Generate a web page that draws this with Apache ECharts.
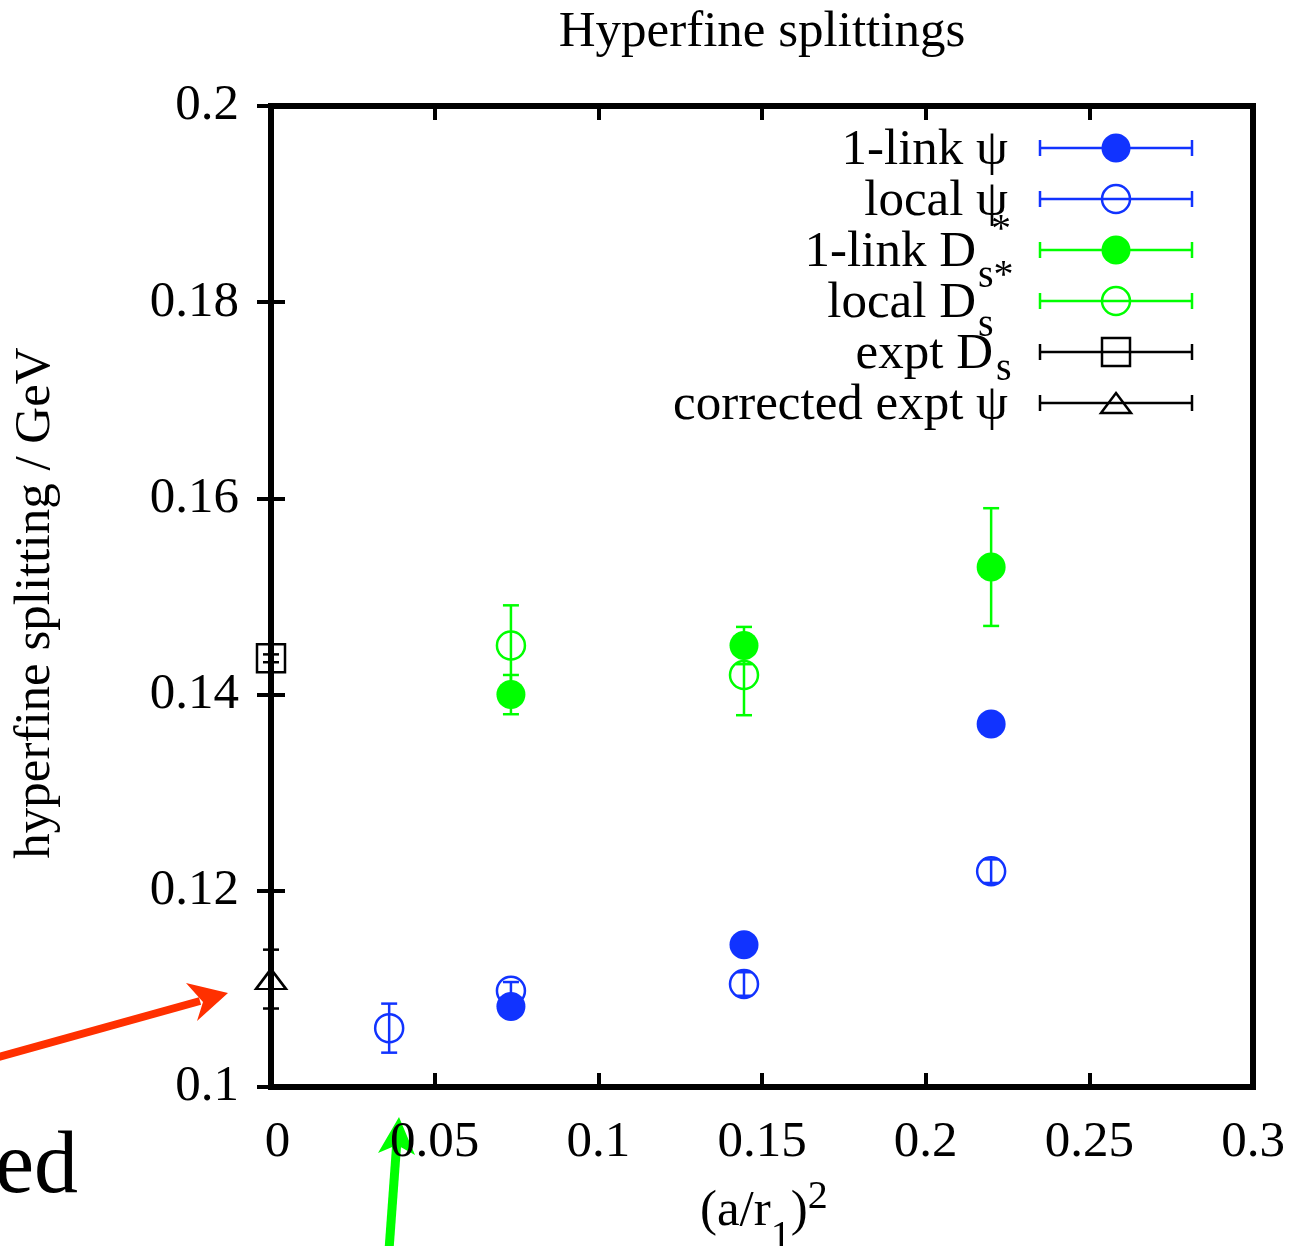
<!DOCTYPE html>
<html><head><meta charset="utf-8">
<script src="https://cdn.jsdelivr.net/npm/echarts@6/dist/echarts.min.js"></script>
<style>html,body{margin:0;padding:0;background:#fff}#c{width:1293px;height:1246px}</style>
</head><body><div id="c"></div>
<script>
// ---- data ----
const xTickLabels = ['0', '0.05', '0.1', '0.15', '0.2', '0.25', '0.3'];
const yTickLabels = ['0.1', '0.12', '0.14', '0.16', '0.18', '0.2'];

const localPsiX = [0.0361, 0.0733, 0.1445, 0.2200];
const localPsiY = [0.1060, 0.1098, 0.1105, 0.1220];
const localPsiErr = [0.0025, 0.0009, 0.0012, 0.0012];

const linkPsiX = [0.0733, 0.1445, 0.2200];
const linkPsiY = [0.1082, 0.1145, 0.1370];
const linkPsiErr = [0.0004, 0.0005, 0.0006];

const localDsX = [0.0733, 0.1445];
const localDsY = [0.1450, 0.1420];
const localDsErr = [0.0041, 0.0041];

const linkDsX = [0.0733, 0.1445, 0.2200];
const linkDsY = [0.1400, 0.1450, 0.1530];
const linkDsErr = [0.0020, 0.0019, 0.0060];

const exptDsX = [0];
const exptDsY = [0.1437];
const exptDsErr = [0.0004];

const corrPsiX = [0];
const corrPsiY = [0.1110];
const corrPsiErr = [0.0030];

// ---- styling ----
const FONT = 'Liberation Serif';
const FS = 51;
const BLUE = '#1133ff';
const GREEN = '#00ff00';
const BLACK = '#000000';
const LW = 2.5;

function errSeries(xs, ys, es, color, z) {
  return {
    type: 'custom', z: z, silent: true, animation: false,
    data: xs.map((x, i) => [x, ys[i], es[i]]),
    encode: { x: 0, y: 1 },
    renderItem: function (params, api) {
      const x = api.value(0), y = api.value(1), e = api.value(2);
      const t = api.coord([x, y + e]);
      const b = api.coord([x, y - e]);
      const hw = 8;
      const st = { stroke: color, lineWidth: LW };
      return { type: 'group', children: [
        { type: 'line', shape: { x1: t[0], y1: t[1], x2: b[0], y2: b[1] }, style: st },
        { type: 'line', shape: { x1: t[0] - hw, y1: t[1], x2: t[0] + hw, y2: t[1] }, style: st },
        { type: 'line', shape: { x1: b[0] - hw, y1: b[1], x2: b[0] + hw, y2: b[1] }, style: st }
      ]};
    }
  };
}
function markSeries(xs, ys, color, filled, symbol, size, z) {
  return {
    type: 'scatter', z: z, silent: true, animation: false,
    data: xs.map((x, i) => [x, ys[i]]),
    symbol: symbol, symbolSize: size,
    itemStyle: filled ? { color: color, opacity: 1 }
                      : { color: 'rgba(0,0,0,0)', borderColor: color, borderWidth: LW, opacity: 1 }
  };
}

const series = [
  errSeries(localPsiX, localPsiY, localPsiErr, BLUE, 3),
  markSeries(localPsiX, localPsiY, BLUE, false, 'circle', 28, 3),
  errSeries(linkPsiX, linkPsiY, linkPsiErr, BLUE, 4),
  markSeries(linkPsiX, linkPsiY, BLUE, true, 'circle', 29, 4),
  errSeries(localDsX, localDsY, localDsErr, GREEN, 5),
  markSeries(localDsX, localDsY, GREEN, false, 'circle', 28, 5),
  errSeries(linkDsX, linkDsY, linkDsErr, GREEN, 6),
  markSeries(linkDsX, linkDsY, GREEN, true, 'circle', 29, 6),
  errSeries(exptDsX, exptDsY, exptDsErr, BLACK, 7),
  markSeries(exptDsX, exptDsY, BLACK, false, 'rect', 28, 7),
  errSeries(corrPsiX, corrPsiY, corrPsiErr, BLACK, 8),
  markSeries(corrPsiX, corrPsiY, BLACK, false, 'triangle', [30, 20], 8)
];

// measure text widths
const mctx = document.createElement('canvas').getContext('2d');
function tw(txt, size) { mctx.font = size + 'px "' + FONT + '"'; return mctx.measureText(txt).width; }

function txt(text, x, y, size, align, extra) {
  return Object.assign({
    type: 'text', x: x, y: y, silent: true,
    style: { text: text, font: size + 'px "' + FONT + '"', fill: '#000', textAlign: align, textVerticalAlign: 'middle' }
  }, extra || {});
}

const graphics = [];
// title
graphics.push(txt('Hyperfine splittings', 762, 33, FS, 'center'));
// y axis name
graphics.push(txt('hyperfine splitting / GeV', 36, 603, FS, 'center', { rotation: Math.PI / 2 }));
// x axis name (a/r1)^2
(function () {
  let x = 700;
  graphics.push(txt('(a/r', x, 1212, FS, 'left')); x += tw('(a/r', FS);
  graphics.push(txt('1', x, 1237, 40, 'left')); x += tw('1', 40);
  graphics.push(txt(')', x, 1212, FS, 'left')); x += tw(')', FS);
  graphics.push(txt('2', x, 1197, 40, 'left'));
})();

// legend
const legendRows = [
  { y: 148, main: '1-link ψ', right: 1008, sub: null, color: BLUE, mark: 'fcircle' },
  { y: 199, main: 'local ψ', right: 1008, sub: { t: '*', x: 1001, y: 230, a: 'center' }, color: BLUE, mark: 'ocircle' },
  { y: 250, main: '1-link D', right: 976, sub: { t: 's*', x: 978, y: 276, a: 'left' }, color: GREEN, mark: 'fcircle' },
  { y: 301, main: 'local D', right: 976, sub: { t: 's', x: 978, y: 325, a: 'left' }, color: GREEN, mark: 'ocircle' },
  { y: 352, main: 'expt D', right: 993, sub: { t: 's', x: 996, y: 369, a: 'left' }, color: BLACK, mark: 'square' },
  { y: 403, main: 'corrected expt ψ', right: 1008, sub: null, color: BLACK, mark: 'triangle' }
];
legendRows.forEach(r => {
  graphics.push(txt(r.main, r.right, r.y + 3, FS, 'right'));
  if (r.sub) graphics.push(txt(r.sub.t, r.sub.x, r.sub.y, 40, r.sub.a));
  const st = { stroke: r.color, lineWidth: LW };
  graphics.push({ type: 'line', silent: true, shape: { x1: 1040, y1: r.y, x2: 1192, y2: r.y }, style: st });
  graphics.push({ type: 'line', silent: true, shape: { x1: 1040, y1: r.y - 8, x2: 1040, y2: r.y + 8 }, style: st });
  graphics.push({ type: 'line', silent: true, shape: { x1: 1192, y1: r.y - 8, x2: 1192, y2: r.y + 8 }, style: st });
  const cx = 1116;
  if (r.mark === 'fcircle') graphics.push({ type: 'circle', silent: true, z: 10, shape: { cx: cx, cy: r.y, r: 14.5 }, style: { fill: r.color } });
  if (r.mark === 'ocircle') graphics.push({ type: 'circle', silent: true, z: 10, shape: { cx: cx, cy: r.y, r: 14 }, style: { fill: 'none', stroke: r.color, lineWidth: LW } });
  if (r.mark === 'square') graphics.push({ type: 'rect', silent: true, z: 10, shape: { x: cx - 14, y: r.y - 14, width: 28, height: 28 }, style: { fill: 'none', stroke: r.color, lineWidth: LW } });
  if (r.mark === 'triangle') graphics.push({ type: 'polygon', silent: true, z: 10, shape: { points: [[cx, r.y - 10], [cx + 15, r.y + 10], [cx - 15, r.y + 10]] }, style: { fill: 'none', stroke: r.color, lineWidth: LW } });
});

// annotations outside the plot
graphics.push({ type: 'line', silent: true, shape: { x1: -5, y1: 1058, x2: 200, y2: 1001 }, style: { stroke: '#ff3000', lineWidth: 8 } });
graphics.push({ type: 'polygon', silent: true, shape: { points: [[228, 993], [186, 983], [203, 1002], [197, 1021]] }, style: { fill: '#ff3000' } });
graphics.push({ type: 'line', silent: true, shape: { x1: 389, y1: 1250, x2: 397, y2: 1140 }, style: { stroke: GREEN, lineWidth: 9 } });
graphics.push({ type: 'polygon', silent: true, shape: { points: [[399, 1117], [415, 1155], [397, 1145], [378, 1153]] }, style: { fill: GREEN } });
graphics.push(txt('ed', 78, 1169, 88, 'right'));

const axisCommon = {
  type: 'value', splitLine: { show: false }, axisLine: { show: false },
  axisTick: { show: true, inside: true, length: 14, lineStyle: { color: '#000', width: 4 } }
};

const chart = echarts.init(document.getElementById('c'), null, { renderer: 'canvas' });
chart.setOption({
  animation: false,
  backgroundColor: '#fff',
  grid: { left: 271, right: 40, top: 106, bottom: 159, show: true, borderColor: '#000', borderWidth: 6, backgroundColor: 'transparent', z: 1 },
  xAxis: [
    Object.assign({}, axisCommon, { min: 0, max: 0.3, interval: 0.05, position: 'bottom',
      axisLabel: { show: true, margin: 30, fontFamily: FONT, fontSize: FS, color: '#000',
        rich: { z: { fontFamily: FONT, fontSize: FS, color: '#000', padding: [0, 0, 0, 13] } },
        formatter: v => { const i = Math.round(v / 0.05); return i === 0 ? '{z|' + xTickLabels[0] + '}' : xTickLabels[i]; } } }),
    Object.assign({}, axisCommon, { min: 0, max: 0.3, interval: 0.05, position: 'top', axisLabel: { show: false } })
  ],
  yAxis: [
    Object.assign({}, axisCommon, { min: 0.1, max: 0.2, interval: 0.02, position: 'left',
      axisLabel: { show: true, margin: 32, fontFamily: FONT, fontSize: FS, color: '#000',
        formatter: v => yTickLabels[Math.round((v - 0.1) / 0.02)] } }),
    Object.assign({}, axisCommon, { min: 0.1, max: 0.2, interval: 0.02, position: 'right', axisLabel: { show: false } })
  ],
  series: series,
  graphic: graphics
});
</script>
</body></html>
